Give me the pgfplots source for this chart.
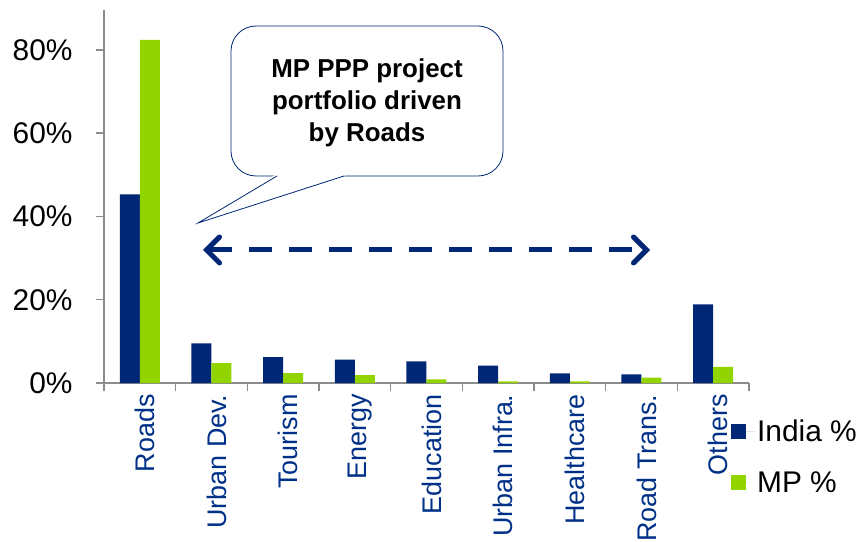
\documentclass[border=0pt]{standalone}
\usepackage{fontspec}
\setmainfont{Liberation Sans}
\usepackage{pgfplots}
\pgfplotsset{compat=1.18}
\usetikzlibrary{arrows.meta}
\definecolor{india}{RGB}{0,38,118}
\definecolor{mp}{RGB}{146,212,0}
\definecolor{axgray}{RGB}{140,140,140}
\definecolor{lblblue}{RGB}{0,48,135}
\begin{document}
\begin{tikzpicture}
\begin{axis}[
  at={(0bp,0bp)}, anchor=south west,
  scale only axis, width=645bp, height=373bp,
  xmin=-0.5, xmax=8.5, ymin=0, ymax=89.6,
  ybar=0pt, bar width=20bp,
  axis x line*=bottom, axis y line*=left,
  axis line style={axgray, line width=1.5bp, -},
  xtick={0,...,8},
  xticklabels={Roads, Urban Dev., Tourism, Energy, Education, Urban Infra., Healthcare, Road Trans., Others},
  minor xtick={-0.5,0.5,1.5,2.5,3.5,4.5,5.5,6.5,7.5,8.5},
  major x tick style={draw=none},
  minor x tick style={axgray, line width=1.5bp},
  ytick={0,20,40,60,80},
  y tick style={axgray, line width=1.5bp},
  tick align=outside,
  major tick length=8bp, minor tick length=8bp,
  yticklabel={\pgfmathprintnumber{\tick}\%},
  /pgf/number format/assume math mode=true,
  yticklabel style={font=\fontsize{30}{36}\selectfont, text=black, xshift=-20bp},
  xticklabel style={font=\fontsize{27}{30}\selectfont, text=lblblue, rotate=90, anchor=east, yshift=-5bp},
  legend style={at={(0.972,-0.092)}, anchor=north west, draw=none, fill=none,
    font=\fontsize{30}{36}\selectfont, row sep=25bp, inner sep=0pt},
  legend cell align=left,
  sq/.style={legend image code/.code={\fill[##1,draw=none] (0bp,-7.5bp) rectangle (15bp,7.5bp); \path (15bp,0bp) -- (24bp,0bp);}},
]
\addplot[fill=india, draw=none, sq] coordinates {(0,45.3) (1,9.5) (2,6.2) (3,5.6) (4,5.2) (5,4.2) (6,2.3) (7,2.1) (8,18.9)};
\addplot[fill=mp, draw=none, sq] coordinates {(0,82.4) (1,4.8) (2,2.4) (3,1.9) (4,0.9) (5,0.4) (6,0.4) (7,1.3) (8,3.9)};
\legend{India \%, MP \%}
\end{axis}
% callout
\draw[india, line width=0.8bp, fill=white, rounded corners=25bp] (127bp,207bp) rectangle (399bp,357bp);
\fill[white] (171bp,208bp) -- (94bp,160bp) -- (242bp,208bp) -- cycle;
\draw[india, line width=0.8bp] (173bp,207bp) -- (94bp,160bp) -- (240bp,207bp);
\node[align=center, font=\bfseries\fontsize{26}{32}\selectfont, text=black] at (263bp,280bp) {MP PPP project\\portfolio driven\\by Roads};
% arrow
\draw[india, line width=5bp, dash pattern=on 23bp off 17bp,
  {Straight Barb[length=13bp,width=26bp,line cap=round]}-{Straight Barb[length=13bp,width=26bp,line cap=round]}]
  (99bp,133bp) -- (546bp,133bp);
\pgfresetboundingbox
\path (-104bp,-159bp) rectangle (756bp,383bp);
\end{tikzpicture}
\end{document}
